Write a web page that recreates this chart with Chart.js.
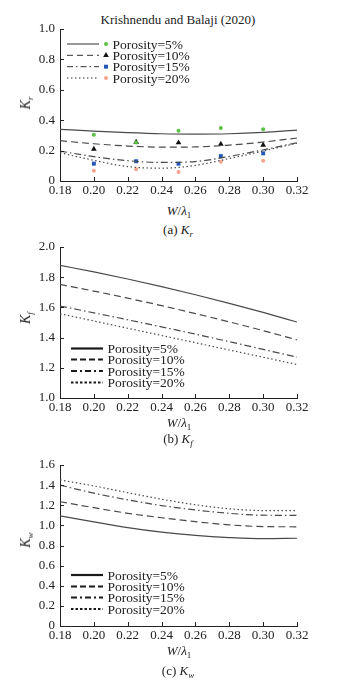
<!DOCTYPE html>
<html>
<head>
<meta charset="utf-8">
<script src="https://cdn.jsdelivr.net/npm/chart.js@4.4.1/dist/chart.umd.min.js"></script>
<style>
  html, body { margin: 0; padding: 0; background: #fff; }
  body { width: 347px; height: 684px; position: relative; overflow: hidden;
         font-family: "Liberation Serif", "Times New Roman", serif; color: #222; }
  canvas { position: absolute; left: 0; }
  .lbl { position: absolute; white-space: nowrap; font-size: 13px; line-height: 1; }
  .ctr { transform: translate(-50%, -50%); }
  .rot { transform: translate(-50%, -50%) rotate(-90deg); }
  sub { font-size: 9px; vertical-align: -3px; line-height: 0; }
</style>
</head>
<body>
<div class="lbl ctr" style="left:178px;top:19px">Krishnendu and Balaji (2020)</div>

<canvas id="chartKr" width="347" height="200" style="top:0"></canvas>
<div class="lbl rot" style="left:26px;top:103px;font-size:14px"><i>K</i><sub><i>r</i></sub></div>
<div class="lbl ctr" style="left:179px;top:210px"><i>W</i>/<i>λ</i><sub>1</sub></div>
<div class="lbl ctr" style="left:178px;top:229px">(a) <i>K</i><sub><i>r</i></sub></div>

<canvas id="chartKf" width="347" height="200" style="top:215px"></canvas>
<div class="lbl rot" style="left:26px;top:318px;font-size:14px"><i>K</i><sub><i>f</i></sub></div>
<div class="lbl ctr" style="left:179px;top:422px"><i>W</i>/<i>λ</i><sub>1</sub></div>
<div class="lbl ctr" style="left:178px;top:438px">(b) <i>K</i><sub><i>f</i></sub></div>

<canvas id="chartKw" width="347" height="200" style="top:445px"></canvas>
<div class="lbl rot" style="left:26px;top:540px;font-size:14px"><i>K</i><sub><i>w</i></sub></div>
<div class="lbl ctr" style="left:179px;top:650px"><i>W</i>/<i>λ</i><sub>1</sub></div>
<div class="lbl ctr" style="left:178px;top:670px">(c) <i>K</i><sub><i>w</i></sub></div>

<script>
// x positions of the computed curves and the axis ticks
const xGrid       = [0.18, 0.20, 0.22, 0.24, 0.26, 0.28, 0.30, 0.32];
const xTicks      = [0.18, 0.20, 0.22, 0.24, 0.26, 0.28, 0.30, 0.32];
const xTickLabels = ['0.18', '0.20', '0.22', '0.24', '0.26', '0.28', '0.30', '0.32'];
const seriesLabels = ['Porosity=5%', 'Porosity=10%', 'Porosity=15%', 'Porosity=20%'];

// (a) Kr - curves
const kr5  = [0.340, 0.328, 0.318, 0.311, 0.309, 0.311, 0.320, 0.335];
const kr10 = [0.265, 0.245, 0.230, 0.223, 0.224, 0.236, 0.256, 0.283];
const kr15 = [0.197, 0.160, 0.134, 0.122, 0.128, 0.162, 0.205, 0.252];
const kr20 = [0.186, 0.136, 0.095, 0.084, 0.103, 0.148, 0.197, 0.249];
// (a) Kr - experimental points
const expX    = [0.20, 0.225, 0.25, 0.275, 0.30];
const krExp5  = [0.305, 0.254, 0.331, 0.349, 0.340];
const krExp10 = [0.210, 0.256, 0.252, 0.243, 0.237];
const krExp15 = [0.114, 0.130, 0.114, 0.164, 0.182];
const krExp20 = [0.068, 0.077, 0.059, 0.127, 0.134];
const krTicks      = [0, 0.2, 0.4, 0.6, 0.8, 1.0];
const krTickLabels = ['0', '0.2', '0.4', '0.6', '0.8', '1.0'];

// (b) Kf
const kf5  = [1.879, 1.835, 1.788, 1.738, 1.684, 1.627, 1.567, 1.503];
const kf10 = [1.752, 1.708, 1.661, 1.612, 1.559, 1.504, 1.446, 1.385];
const kf15 = [1.609, 1.564, 1.518, 1.471, 1.423, 1.373, 1.322, 1.270];
const kf20 = [1.558, 1.510, 1.462, 1.414, 1.366, 1.318, 1.270, 1.222];
const kfTicks      = [1.0, 1.2, 1.4, 1.6, 1.8, 2.0];
const kfTickLabels = ['1.0', '1.2', '1.4', '1.6', '1.8', '2.0'];

// (c) Kw
const kw5  = [1.095, 1.035, 0.978, 0.933, 0.900, 0.879, 0.868, 0.872];
const kw10 = [1.235, 1.176, 1.120, 1.076, 1.037, 1.005, 0.988, 0.986];
const kw15 = [1.400, 1.320, 1.254, 1.197, 1.153, 1.120, 1.101, 1.100];
const kw20 = [1.452, 1.392, 1.325, 1.260, 1.205, 1.165, 1.147, 1.146];
const kwTicks      = [0, 0.2, 0.4, 0.6, 0.8, 1.0, 1.2, 1.4, 1.6];
const kwTickLabels = ['0', '0.2', '0.4', '0.6', '0.8', '1.0', '1.2', '1.4', '1.6'];

const axisColor  = '#222';
const curveColor = '#4a4a4a';
const curveDash  = [[], [7, 4], [7, 3, 1.5, 3], [1.5, 2.5]];
const fontFamily = '"Liberation Serif", "Times New Roman", serif';

const markerStyles = [
  { pointStyle: 'circle',   pointRadius: 2.0, color: '#5cc145' },
  { pointStyle: 'triangle', pointRadius: 3.3, color: '#111111' },
  { pointStyle: 'rect',     pointRadius: 2.8, color: '#2458b8' },
  { pointStyle: 'circle',   pointRadius: 2.0, color: '#f6a48e' }
];

function curve(i, ys) {
  return {
    label: seriesLabels[i], group: i,
    data: xGrid.map((x, k) => ({ x, y: ys[k] })),
    borderColor: curveColor, borderWidth: 1.2, borderDash: curveDash[i],
    pointRadius: 0, fill: false, cubicInterpolationMode: 'monotone'
  };
}

function markers(i, ys) {
  const m = markerStyles[i];
  return {
    label: seriesLabels[i], group: i, isMarker: true,
    data: expX.map((x, k) => ({ x, y: ys[k] })),
    showLine: false, pointStyle: m.pointStyle, pointRadius: m.pointRadius,
    pointBackgroundColor: m.color, pointBorderColor: m.color, pointBorderWidth: 0
  };
}

// ticks pointing into the plot
const inwardTicks = {
  id: 'inwardTicks',
  afterDatasetsDraw(chart) {
    const { ctx, chartArea, scales: { x, y } } = chart;
    ctx.save();
    ctx.strokeStyle = axisColor;
    ctx.lineWidth = 1;
    ctx.beginPath();
    x.ticks.forEach(t => {
      const px = Math.round(x.getPixelForValue(t.value)) + 0.5;
      ctx.moveTo(px, chartArea.bottom);
      ctx.lineTo(px, chartArea.bottom - 4);
    });
    y.ticks.forEach(t => {
      const py = Math.round(y.getPixelForValue(t.value)) + 0.5;
      ctx.moveTo(chartArea.left, py);
      ctx.lineTo(chartArea.left + 4, py);
    });
    ctx.stroke();
    ctx.restore();
  }
};

function legendPlugin(cfg) {
  return {
    id: 'seriesLegend',
    afterDatasetsDraw(chart) {
      const ctx = chart.ctx;
      const sets = chart.data.datasets;
      sets.filter(d => !d.isMarker).forEach((ds, i) => {
        const y = cfg.rows[i];
        ctx.save();
        ctx.strokeStyle = cfg.lineColor;
        ctx.lineWidth = cfg.lineWidth;
        ctx.setLineDash(cfg.dashes[i]);
        ctx.beginPath();
        ctx.moveTo(cfg.x1, y);
        ctx.lineTo(cfg.x2, y);
        ctx.stroke();
        ctx.setLineDash([]);
        const m = sets.find(d => d.isMarker && d.group === ds.group);
        if (m) {
          ctx.fillStyle = m.pointBackgroundColor;
          ctx.strokeStyle = m.pointBorderColor;
          Chart.helpers.drawPoint(ctx, { pointStyle: m.pointStyle, radius: m.pointRadius, borderWidth: 0, rotation: 0 }, cfg.markerX, y);
        }
        ctx.fillStyle = axisColor;
        ctx.font = cfg.font;
        ctx.textAlign = 'left';
        ctx.textBaseline = 'middle';
        ctx.fillText(ds.label, cfg.textX, y + 1);
        ctx.restore();
      });
    }
  };
}

function makePanel(id, datasets, yMin, yMax, yTicks, yLabels, padTop, xAxisH, legend) {
  const tickFont = { family: fontFamily, size: 13 };
  return new Chart(document.getElementById(id), {
    type: 'line',
    data: { datasets },
    options: {
      responsive: false, animation: false, events: [],
      layout: { padding: { top: padTop, right: 50, left: 0, bottom: 0 } },
      plugins: { legend: { display: false }, tooltip: { enabled: false } },
      scales: {
        x: {
          type: 'linear', min: 0.18, max: 0.32,
          afterBuildTicks: s => { s.ticks = xTicks.map(v => ({ value: v })); },
          afterFit: s => { s.height = xAxisH; },
          ticks: { callback: (v, i) => xTickLabels[i], font: tickFont, color: axisColor,
                   padding: 2, maxRotation: 0, autoSkip: false },
          grid: { display: false, drawTicks: false },
          border: { display: true, color: axisColor, width: 1 }
        },
        y: {
          min: yMin, max: yMax,
          afterBuildTicks: s => { s.ticks = yTicks.map(v => ({ value: v })); },
          afterFit: s => { s.width = 60; },
          ticks: { callback: (v, i) => yLabels[i], font: tickFont, color: axisColor, padding: 5, autoSkip: false },
          grid: { display: false, drawTicks: false },
          border: { display: true, color: axisColor, width: 1 }
        }
      }
    },
    plugins: [inwardTicks, legendPlugin(legend)]
  });
}

makePanel('chartKr', [
  curve(0, kr5), curve(1, kr10), curve(2, kr15), curve(3, kr20),
  markers(0, krExp5), markers(1, krExp10), markers(2, krExp15), markers(3, krExp20)
], 0, 1.0, krTicks, krTickLabels, 29, 19, {
  rows: [44, 55.3, 66.7, 78], x1: 67, x2: 99, markerX: 106, textX: 112.5,
  lineColor: '#333', lineWidth: 1, dashes: [[], [6, 4], [6, 3, 1.5, 3], [1.5, 2.5]],
  font: '13.5px ' + fontFamily
});

makePanel('chartKf', [
  curve(0, kf5), curve(1, kf10), curve(2, kf15), curve(3, kf20)
], 1.0, 2.0, kfTicks, kfTickLabels, 32, 17, {
  rows: [133.5, 144.5, 156, 167.5], x1: 71, x2: 103, markerX: 0, textX: 107.5,
  lineColor: '#1a1a1a', lineWidth: 2.2, dashes: [[], [6, 3], [6, 3, 2, 3], [2.5, 2]],
  font: '13.5px ' + fontFamily
});

makePanel('chartKw', [
  curve(0, kw5), curve(1, kw10), curve(2, kw15), curve(3, kw20)
], 0, 1.6, kwTicks, kwTickLabels, 20, 19, {
  rows: [130, 141.5, 152.5, 164], x1: 71, x2: 103, markerX: 0, textX: 107.5,
  lineColor: '#1a1a1a', lineWidth: 2.2, dashes: [[], [6, 3], [6, 3, 2, 3], [2.5, 2]],
  font: '13.5px ' + fontFamily
});
</script>
</body>
</html>
